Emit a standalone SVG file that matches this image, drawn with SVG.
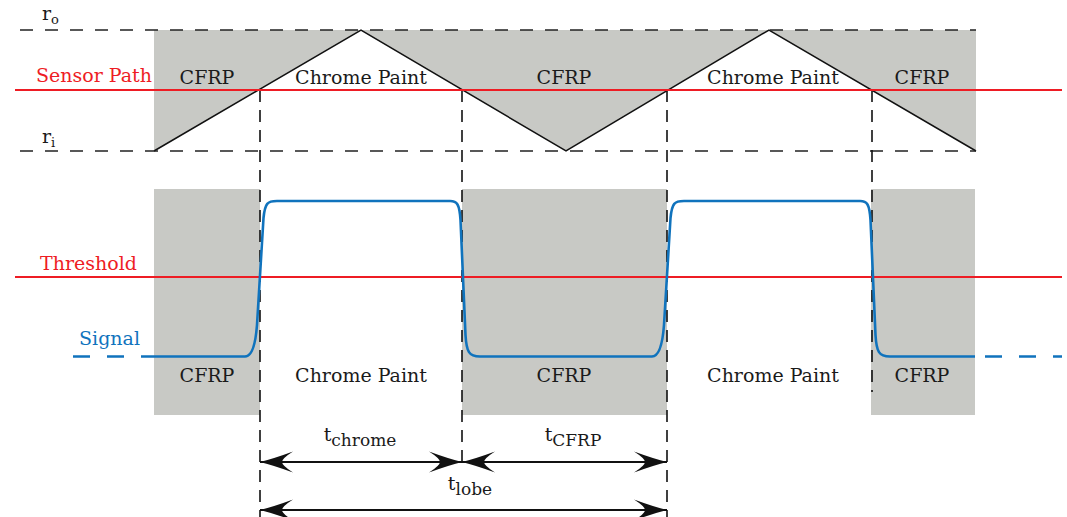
<svg xmlns="http://www.w3.org/2000/svg" width="1067" height="517" viewBox="0 0 1067 517">
  <style>
    text { font-family: "DejaVu Serif", "Liberation Serif", serif; font-size: 19px; fill: #1a1a1a; }
    .mid { text-anchor: middle; }
    .end { text-anchor: end; }
    .red { fill: #ee1c24; }
    .blue { fill: #1073bd; }
    .sub { font-size: 17px; }
    .rsub { font-size: 13px; }
    .fill { fill: #c8c9c5; stroke: none; }
    .hdash { fill: none; stroke: #222; stroke-width: 1.5; stroke-dasharray: 13 12; }
    .vdash { fill: none; stroke: #111; stroke-width: 1.6; stroke-dasharray: 12 8; }
    .redline { stroke: #ee1c24; stroke-width: 1.8; fill: none; }
    .edge { stroke: #111; stroke-width: 1.5; fill: none; }
    .signal { stroke: #1073bd; stroke-width: 2.6; fill: none; stroke-linejoin: round; }
    .signal-dash { stroke: #1073bd; stroke-width: 2.6; fill: none; stroke-dasharray: 17 17; }
    .dim { stroke: #111; stroke-width: 1.8; fill: none; marker-start: url(#head); marker-end: url(#head); }
  </style>
  <defs>
    <marker id="head" viewBox="-34 -11 35 22" refX="0" refY="0" markerWidth="35" markerHeight="22" markerUnits="userSpaceOnUse" orient="auto-start-reverse">
      <path d="M0,0 Q-14,-3.5 -33,-10.5 Q-22,-3.5 -22,0 Q-22,3.5 -33,10.5 Q-14,3.5 0,0 Z" fill="#111"/>
    </marker>
  </defs>

  <!-- cross-section of the lobes: CFRP (grey) above the zigzag boundary -->
  <g id="cross-section">
    <polygon class="fill" points="154,30 976,30 976,151 769,30 566,151 361,30 154,151"/>
    <polyline class="edge" points="154,151 361,30 566,151 769,30 976,151"/>
    <line class="hdash" x1="20" y1="30" x2="976" y2="30"/>
    <line class="hdash" x1="20" y1="151" x2="976" y2="151"/>
    <text x="42" y="20">r<tspan class="rsub" dy="4">o</tspan></text>
    <text x="42" y="143">r<tspan class="rsub" dy="4">i</tspan></text>
  </g>

  <!-- material regions seen by the sensor -->
  <g id="material-bands">
    <rect class="fill" x="154" y="189" width="106" height="226"/>
    <rect class="fill" x="462" y="189" width="205" height="226"/>
    <rect class="fill" x="871" y="189" width="104" height="226"/>
  </g>

  <!-- lobe boundaries -->
  <g id="boundaries">
    <line class="vdash" x1="260" y1="90" x2="260" y2="517"/>
    <line class="vdash" x1="462" y1="90" x2="462" y2="463"/>
    <line class="vdash" x1="667" y1="90" x2="667" y2="517"/>
    <line class="vdash" x1="872" y1="90" x2="872" y2="392"/>
  </g>

  <g id="sensor-path">
    <line class="redline" x1="15" y1="90" x2="1062" y2="90"/>
    <text class="red end" x="152" y="82">Sensor Path</text>
  </g>

  <g id="threshold">
    <line class="redline" x1="15" y1="277" x2="1062" y2="277"/>
    <text class="red end" x="137" y="270">Threshold</text>
  </g>

  <g id="signal">
    <line class="signal-dash" x1="73" y1="356.5" x2="154" y2="356.5"/>
    <line class="signal-dash" x1="985" y1="356.5" x2="1062" y2="356.5" stroke-dasharray="20 15"/>
    <path class="signal" d="M154,356.5 L245,356.5 C252,356.5 255.5,345 257,325 L263.5,218 C265,203 267.5,201 277,201
      L450,201 C457,201 459.5,204 460.5,220 L465.5,335 C466.5,352 469,356.5 480,356.5
      L652,356.5 C659,356.5 662.5,345 664,325 L670.5,218 C672,203 674.5,201 684,201
      L860,201 C867,201 869.5,204 870.5,220 L875.5,335 C876.5,352 879,356.5 890,356.5 L975,356.5"/>
    <text class="blue end" x="140" y="345">Signal</text>
  </g>

  <g id="labels-top">
    <text class="mid" x="207" y="84">CFRP</text>
    <text class="mid" x="361" y="84">Chrome Paint</text>
    <text class="mid" x="564" y="84">CFRP</text>
    <text class="mid" x="773" y="84">Chrome Paint</text>
    <text class="mid" x="922" y="84">CFRP</text>
  </g>

  <g id="labels-bottom">
    <text class="mid" x="207" y="382">CFRP</text>
    <text class="mid" x="361" y="382">Chrome Paint</text>
    <text class="mid" x="564" y="382">CFRP</text>
    <text class="mid" x="773" y="382">Chrome Paint</text>
    <text class="mid" x="922" y="382">CFRP</text>
  </g>

  <!-- timing dimensions -->
  <g id="connectors">
    <line class="dim" x1="260" y1="462" x2="462" y2="462"/>
    <line class="dim" x1="462" y1="462" x2="667" y2="462"/>
    <line class="dim" x1="260" y1="510" x2="667" y2="510"/>
  </g>
  <g id="dimension-labels">
    <text class="mid" x="360" y="441">t<tspan class="sub" dy="5">chrome</tspan></text>
    <text class="mid" x="573" y="441">t<tspan class="sub" dy="5">CFRP</tspan></text>
    <text class="mid" x="470" y="490">t<tspan class="sub" dy="5">lobe</tspan></text>
  </g>
</svg>
